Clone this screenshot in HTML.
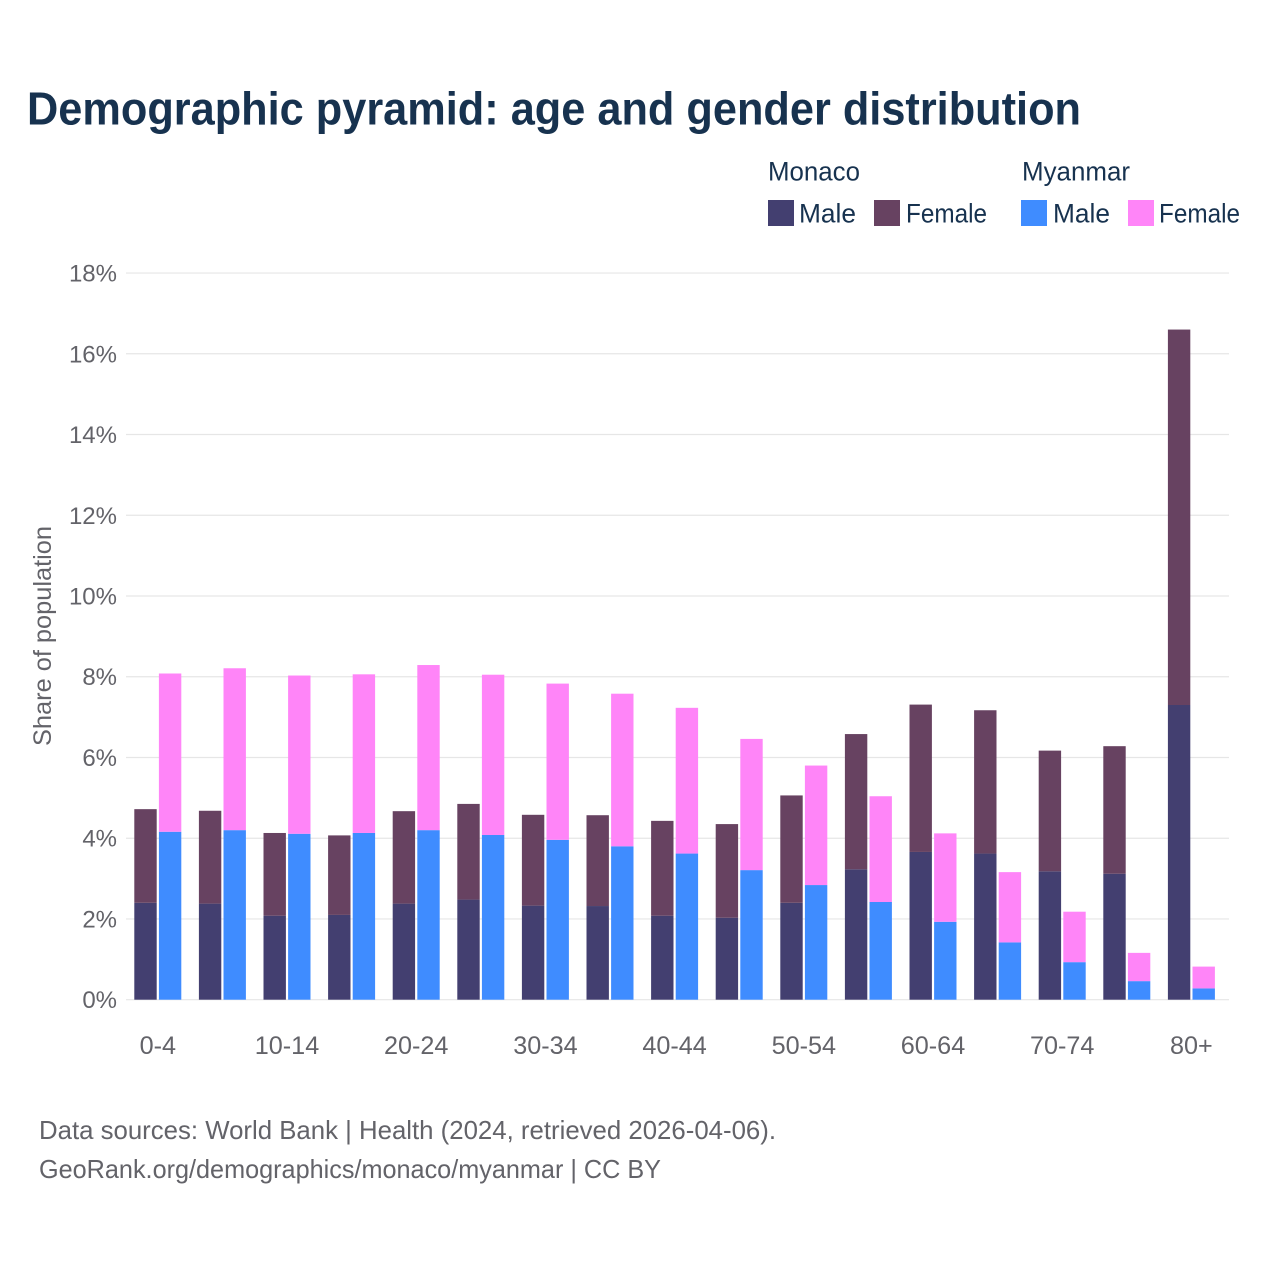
<!DOCTYPE html>
<html lang="en">
<head>
<meta charset="utf-8">
<title>Demographic pyramid: age and gender distribution</title>
<style>
html,body{margin:0;padding:0;background:#fff;width:1280px;height:1280px;overflow:hidden}
svg{display:block;font-family:"Liberation Sans",sans-serif}
</style>
</head>
<body>
<svg id="chart" xmlns="http://www.w3.org/2000/svg" width="1280" height="1280" viewBox="0 0 1280 1280">
  <rect x="0" y="0" width="1280" height="1280" fill="#ffffff"/>
  <text x="27" y="124.5" font-size="46" font-weight="700" fill="#17324f" textLength="1054" lengthAdjust="spacingAndGlyphs">Demographic pyramid: age and gender distribution</text>

  <g font-size="26.5" fill="#17324f">
    <text x="768" y="180.5" textLength="92" lengthAdjust="spacingAndGlyphs">Monaco</text>
    <rect x="768" y="200" width="26" height="26" fill="#433f70"/>
    <text x="799" y="222.5" textLength="57" lengthAdjust="spacingAndGlyphs">Male</text>
    <rect x="874" y="200" width="26" height="26" fill="#674261"/>
    <text x="906" y="222.5" textLength="81" lengthAdjust="spacingAndGlyphs">Female</text>
    <text x="1022" y="180.5" textLength="108" lengthAdjust="spacingAndGlyphs">Myanmar</text>
    <rect x="1021" y="200" width="26" height="26" fill="#3f8cff"/>
    <text x="1053" y="222.5" textLength="57" lengthAdjust="spacingAndGlyphs">Male</text>
    <rect x="1128" y="200" width="26" height="26" fill="#ff85f8"/>
    <text x="1159" y="222.5" textLength="81" lengthAdjust="spacingAndGlyphs">Female</text>
  </g>

  <g id="grid"></g>
  <g id="bars"></g>
  <g id="y-ticks"></g>
  <g id="x-ticks"></g>

  <text transform="translate(51,746) rotate(-90)" x="0" y="0" font-size="25" fill="#636369" textLength="220" lengthAdjust="spacingAndGlyphs">Share of population</text>

  <text x="39" y="1139" font-size="26" fill="#636369" textLength="737" lengthAdjust="spacingAndGlyphs">Data sources: World Bank | Health (2024, retrieved 2026-04-06).</text>
  <text x="39" y="1178" font-size="26" fill="#636369" textLength="622" lengthAdjust="spacingAndGlyphs">GeoRank.org/demographics/monaco/myanmar | CC BY</text>
</svg>
<script>
const categories = ['0-4','5-9','10-14','15-19','20-24','25-29','30-34','35-39','40-44','45-49','50-54','55-59','60-64','65-69','70-74','75-79','80+'];
const monacoMale = [2.40,2.38,2.08,2.10,2.38,2.48,2.33,2.32,2.08,2.03,2.40,3.23,3.66,3.62,3.18,3.12,7.30];
const monacoFemale = [2.32,2.30,2.05,1.97,2.29,2.37,2.25,2.25,2.35,2.32,2.66,3.35,3.65,3.55,2.99,3.16,9.30];
const myanmarMale = [4.16,4.20,4.11,4.13,4.20,4.08,3.96,3.80,3.62,3.21,2.84,2.42,1.93,1.42,0.93,0.46,0.28];
const myanmarFemale = [3.92,4.01,3.92,3.93,4.09,3.97,3.87,3.78,3.61,3.25,2.96,2.62,2.19,1.74,1.25,0.70,0.54];
const yTicks = [0,2,4,6,8,10,12,14,16,18];

const SVG_NS = 'http://www.w3.org/2000/svg';
const y0 = 999.7, pxPerUnit = 40.37;
const bandLeft = 125.5, bandStep = 64.6;
const barW = 22.4, barOffset = 1.1;
const yScale = v => y0 - v * pxPerUnit;
const xCenter = i => bandLeft + bandStep * (i + 0.5);

const grid = document.getElementById('grid');
const yTickGroup = document.getElementById('y-ticks');
const xTickGroup = document.getElementById('x-ticks');
const barsGroup = document.getElementById('bars');

yTicks.forEach(t => {
  const line = document.createElementNS(SVG_NS, 'line');
  
  
  line.setAttribute('x1', 126);
  line.setAttribute('x2', 1229);
  line.setAttribute('y1', yScale(t));
  line.setAttribute('y2', yScale(t));
  line.setAttribute('stroke', '#e6e6e6');
  line.setAttribute('stroke-width', 1.2);
  grid.appendChild(line);

  const label = document.createElementNS(SVG_NS, 'text');
  
  
  label.setAttribute('x', 117);
  label.setAttribute('y', yScale(t) + 8.5);
  label.setAttribute('text-anchor', 'end');
  label.setAttribute('font-size', 24);
  label.setAttribute('fill', '#636369');
  label.textContent = t + '%';
  yTickGroup.appendChild(label);
});

function addBar(x, bottomVal, val, fill, name) {
  const r = document.createElementNS(SVG_NS, 'rect');
  
  
  r.setAttribute('x', x);
  r.setAttribute('y', yScale(bottomVal + val));
  r.setAttribute('width', barW);
  r.setAttribute('height', val * pxPerUnit);
  r.setAttribute('fill', fill);
  barsGroup.appendChild(r);
}

categories.forEach((c, i) => {
  const cx = xCenter(i);
  const leftX = cx - barOffset - barW;
  const rightX = cx + barOffset;
  addBar(leftX, 0, monacoMale[i], '#433f70', 'bar-monaco-male-' + c);
  addBar(leftX, monacoMale[i], monacoFemale[i], '#674261', 'bar-monaco-female-' + c);
  addBar(rightX, 0, myanmarMale[i], '#3f8cff', 'bar-myanmar-male-' + c);
  addBar(rightX, myanmarMale[i], myanmarFemale[i], '#ff85f8', 'bar-myanmar-female-' + c);

  if (i % 2 === 0) {
    const label = document.createElementNS(SVG_NS, 'text');
    
    
    label.setAttribute('x', cx);
    label.setAttribute('y', 1054);
    label.setAttribute('text-anchor', 'middle');
    label.setAttribute('font-size', 25.2);
    label.setAttribute('fill', '#636369');
    label.textContent = c;
    xTickGroup.appendChild(label);
  }
});
</script>
</body>
</html>
